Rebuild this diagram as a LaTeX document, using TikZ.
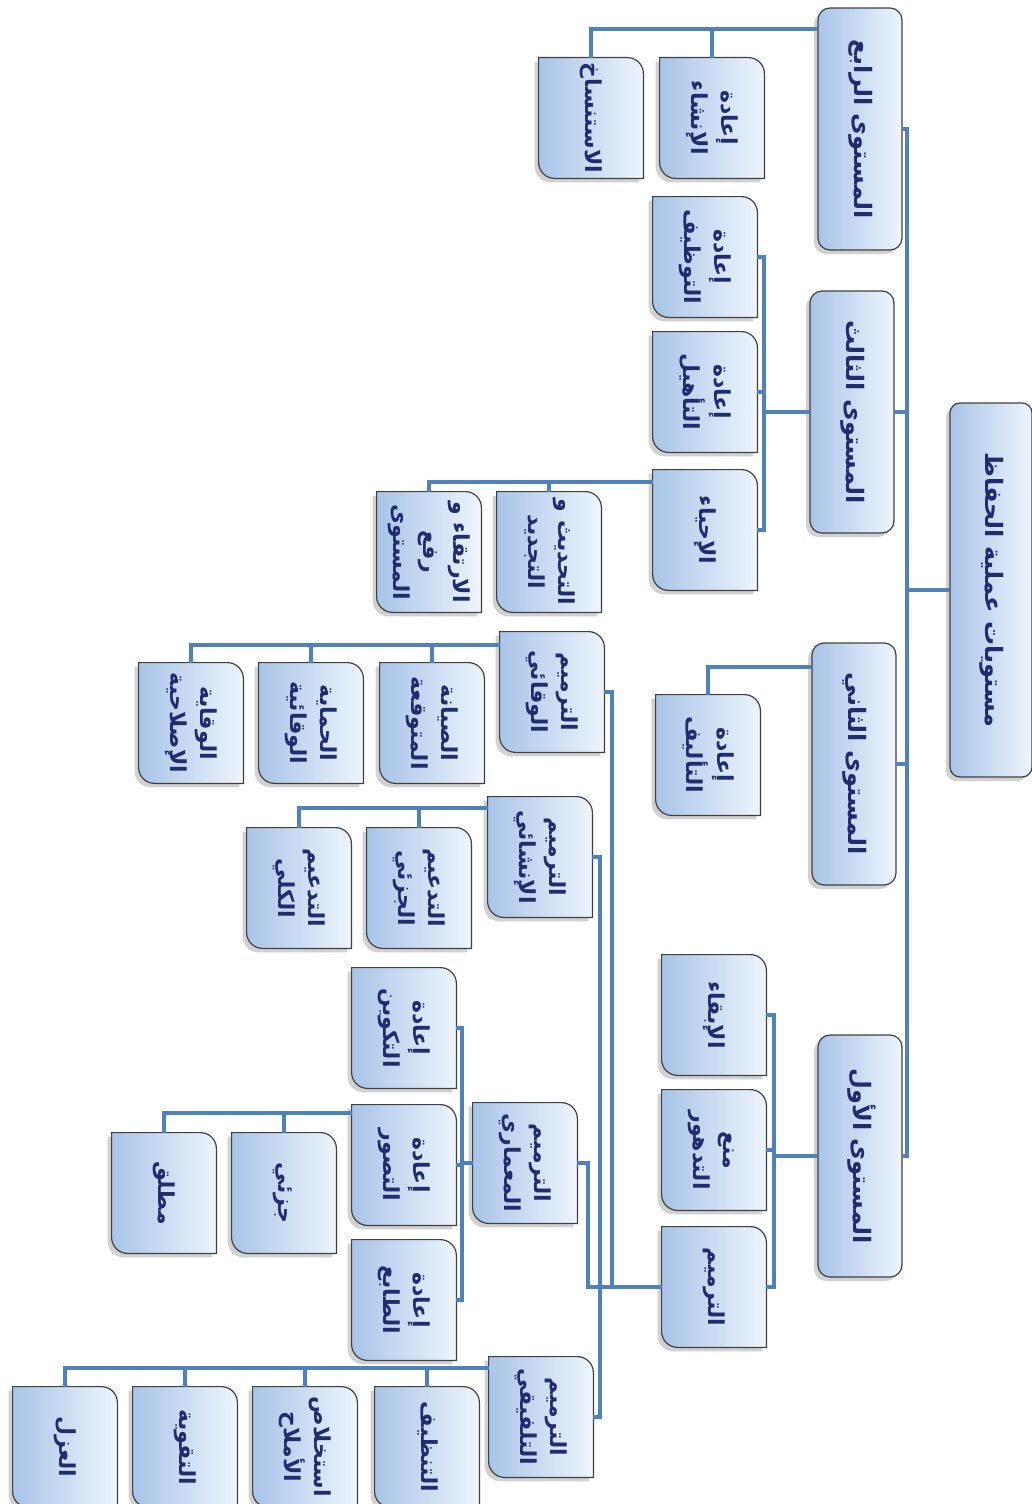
\documentclass[tikz,border=0pt]{standalone}
\usepackage{fontspec}
\usepackage{graphicx}
\usetikzlibrary{shadows,backgrounds}
\newfontfamily\arabicfont[Script=Arabic]{DejaVu Sans}
\TeXXeTstate=1
\definecolor{linkblue}{HTML}{4F81BD}
\definecolor{inkblue}{HTML}{1F2D6E}
\definecolor{boxleft}{HTML}{A8C4E8}
\definecolor{boxright}{HTML}{EEF5FD}
\definecolor{boxedge}{HTML}{404040}
\newcommand{\rl}[1]{\beginR#1\endR}
\newcommand{\vtext}[1]{\rotatebox{-90}{\begin{tabular}{@{}c@{}}#1\end{tabular}}}

\begin{document}
\begin{tikzpicture}[
  x=0.5pt, y=-0.5pt,
  font=\fontsize{12}{15}\arabicfont\bfseries,
  boxshade/.style={draw=boxedge, line width=0.6pt, left color=boxleft, right color=boxright,
    drop shadow={shadow xshift=-2pt, shadow yshift=-2pt, opacity=0.3, fill=black!60}},
  rootbox/.style={boxshade, rounded corners=5pt, minimum width=41pt, minimum height=187pt, inner sep=0pt, text=inkblue},
  levelbox/.style={boxshade, rounded corners=6pt, minimum width=42pt, minimum height=121pt, inner sep=0pt, text=inkblue},
  leafbox/.style={minimum width=52pt, minimum height=60pt, inner sep=0pt, text=inkblue,
    font=\fontsize{11}{15}\arabicfont\bfseries},
  link/.style={draw=linkblue, line width=2pt}
]
  \useasboundingbox (0,0) rectangle (1032,1504);

  % root and levels
  \node[rootbox] (root) at (991,590) {\vtext{\rl{مستويات عملية الحفاظ}}};
  \node[levelbox] (lvl4) at (860,129) {\vtext{\rl{المستوى الرابع}}};
  \node[levelbox] (lvl3) at (852,412) {\vtext{\rl{المستوى الثالث}}};
  \node[levelbox] (lvl2) at (854,764) {\vtext{\rl{المستوى الثاني}}};
  \node[levelbox] (lvl1) at (860,1156) {\vtext{\rl{المستوى الأول}}};

  % level 4
  \node[leafbox] (reinst) at (712,118) {\vtext{\rl{إعادة}\\\rl{الإنشاء}}};
  \node[leafbox] (cloning) at (591,118) {\vtext{\rl{الاستنساخ}}};

  % level 3
  \node[leafbox] (reuse) at (705,257) {\vtext{\rl{إعادة}\\\rl{التوظيف}}};
  \node[leafbox] (rehab) at (705,392) {\vtext{\rl{إعادة}\\\rl{التأهيل}}};
  \node[leafbox] (revive) at (705,530) {\vtext{\rl{الإحياء}}};
  \node[leafbox] (modern) at (549,552) {\vtext{\rl{التحديث و}\\\rl{التجديد}}};
  \node[leafbox] (upgrade) at (429,552) {\vtext{\rl{الارتقاء و}\\\rl{رفع}\\\rl{المستوى}}};

  % level 2
  \node[leafbox] (recompose) at (708,755) {\vtext{\rl{إعادة}\\\rl{التأليف}}};

  % level 1
  \node[leafbox] (keep) at (714,1015) {\vtext{\rl{الإبقاء}}};
  \node[leafbox] (prevent) at (714,1150) {\vtext{\rl{منع}\\\rl{التدهور}}};
  \node[leafbox] (restore) at (714,1287) {\vtext{\rl{الترميم}}};

  \node[leafbox] (prevrest) at (552,692) {\vtext{\rl{الترميم}\\\rl{الوقائي}}};
  \node[leafbox] (forecast) at (432,723) {\vtext{\rl{الصيانة}\\\rl{المتوقعة}}};
  \node[leafbox] (protect) at (311,723) {\vtext{\rl{الحماية}\\\rl{الوقائية}}};
  \node[leafbox] (remedy) at (191,723) {\vtext{\rl{الوقاية}\\\rl{الإصلاحية}}};

  \node[leafbox] (structrest) at (540,857) {\vtext{\rl{الترميم}\\\rl{الإنشائي}}};
  \node[leafbox] (partsup) at (419,888) {\vtext{\rl{التدعيم}\\\rl{الجزئي}}};
  \node[leafbox] (fullsup) at (299,888) {\vtext{\rl{التدعيم}\\\rl{الكلي}}};

  \node[leafbox] (archrest) at (525,1163) {\vtext{\rl{الترميم}\\\rl{المعماري}}};
  \node[leafbox] (reconf) at (404,1028) {\vtext{\rl{إعادة}\\\rl{التكوين}}};
  \node[leafbox] (reimag) at (404,1165) {\vtext{\rl{إعادة}\\\rl{التصور}}};
  \node[leafbox] (retype) at (404,1300) {\vtext{\rl{إعادة}\\\rl{الطابع}}};
  \node[leafbox] (partial) at (284,1193) {\vtext{\rl{جزئي}}};
  \node[leafbox] (absolute) at (164,1193) {\vtext{\rl{مطلق}}};

  \node[leafbox] (fabrest) at (541,1417) {\vtext{\rl{الترميم}\\\rl{التلفيقي}}};
  \node[leafbox] (cleaning) at (427,1447) {\vtext{\rl{التنظيف}}};
  \node[leafbox] (desalt) at (305,1447) {\vtext{\rl{استخلاص}\\\rl{الأملاح}}};
  \node[leafbox] (consol) at (185,1447) {\vtext{\rl{التقوية}}};
  \node[leafbox] (isolate) at (65,1447) {\vtext{\rl{العزل}}};

  % leaf boxes: rounded on one diagonal
  \begin{scope}[on background layer]
    \foreach \n in {reinst,cloning,reuse,rehab,revive,modern,upgrade,recompose,keep,prevent,restore,
        prevrest,forecast,protect,remedy,structrest,partsup,fullsup,archrest,reconf,reimag,retype,
        partial,absolute,fabrest,cleaning,desalt,consol,isolate}
      \path[boxshade] (\n.north west) -- ([xshift=-8pt]\n.north east) arc[start angle=90, end angle=0, radius=8pt]
        -- (\n.south east) -- ([xshift=8pt]\n.south west) arc[start angle=270, end angle=180, radius=8pt] -- cycle;
  \end{scope}

  % connectors
  \coordinate (trunk) at (907,590);
  \draw[link] (root.west) -- (trunk);
  \foreach \l in {lvl4,lvl3,lvl2,lvl1}
    \draw[link] (trunk) |- (\l.east);

  \foreach \c in {reinst,cloning}
    \draw[link] ([yshift=-11pt]lvl4.north west) -| (\c.north);
  \foreach \c in {reuse,rehab,revive}
    \draw[link] (lvl3.west) -- ++(-22.5pt,0) |- (\c.east);
  \foreach \c in {modern,upgrade}
    \draw[link] ([yshift=-6pt]revive.north west) -| (\c.north);
  \draw[link] ([yshift=-12.5pt]lvl2.north west) -| (recompose.north);
  \foreach \c in {keep,prevent,restore}
    \draw[link] (lvl1.west) -- ++(-21.5pt,0) |- (\c.east);

  \draw[link] (restore.west) -- ++(-25pt,0) |- (prevrest.east);
  \draw[link] (restore.west) -- ++(-31pt,0) |- (structrest.east);
  \draw[link] (restore.west) -- ++(-37pt,0) |- (archrest.east);
  \draw[link] (restore.west) -- ++(-31pt,0) |- (fabrest.east);

  \foreach \c in {forecast,protect,remedy}
    \draw[link] ([yshift=-6.5pt]prevrest.north west) -| (\c.north);
  \foreach \c in {partsup,fullsup}
    \draw[link] ([yshift=-5.5pt]structrest.north west) -| (\c.north);
  \foreach \c in {reconf,reimag,retype}
    \draw[link] (archrest.west) -- ++(-5.5pt,0) |- (\c.east);
  \foreach \c in {partial,absolute}
    \draw[link] ([yshift=-4pt]reimag.north west) -| (\c.north);
  \foreach \c in {cleaning,desalt,consol,isolate}
    \draw[link] ([yshift=-5.5pt]fabrest.north west) -| (\c.north);
\end{tikzpicture}
\end{document}
